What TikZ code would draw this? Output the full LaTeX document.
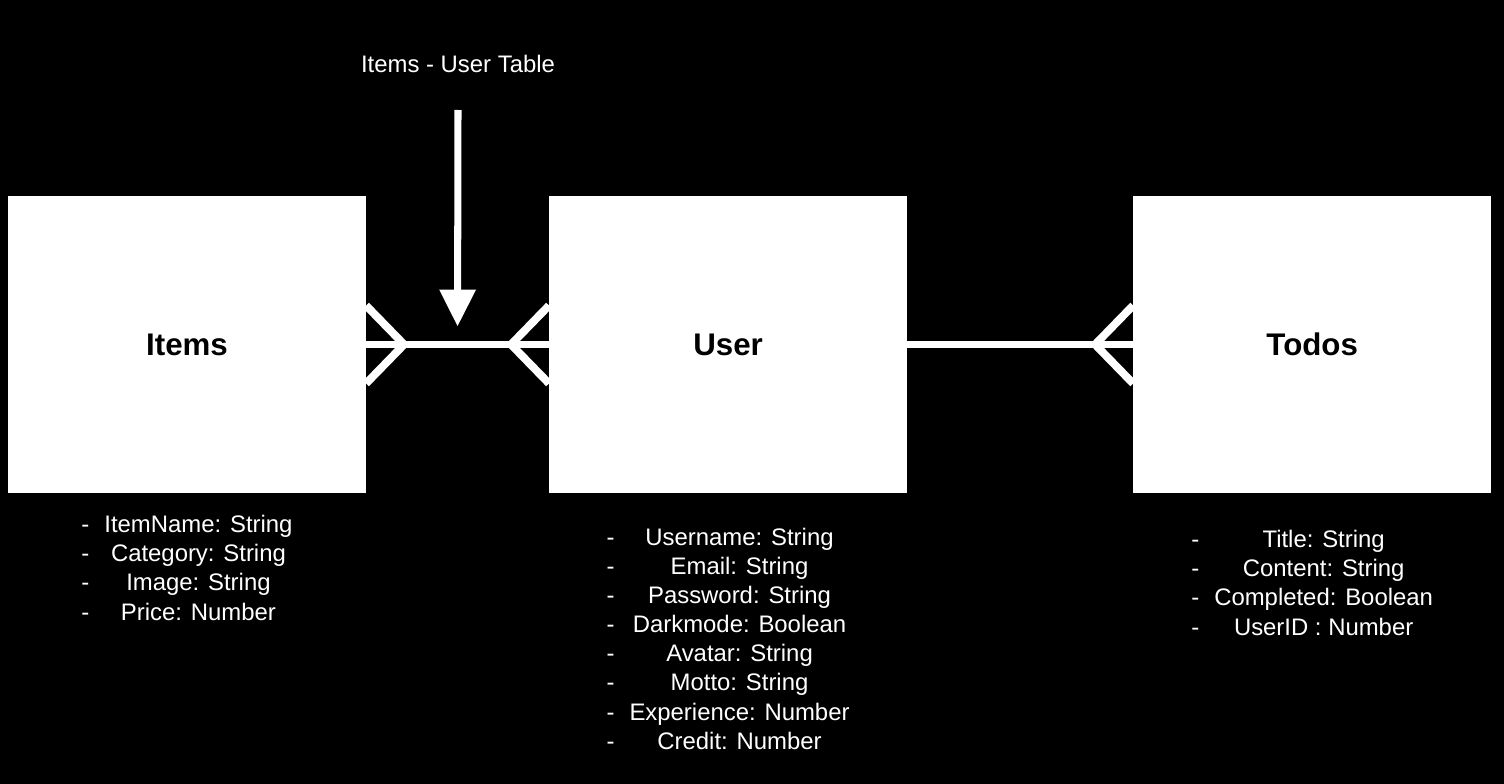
\documentclass[tikz,border=0pt]{standalone}
\usepackage{fontspec}
\setmainfont{Liberation Sans}
\usepackage{xcolor}
\usepackage{tikz}
\usetikzlibrary{arrows.meta,positioning,calc}
\definecolor{ErdInk}{HTML}{FFFFFF}
\definecolor{ErdBack}{HTML}{000000}
\tikzset{
  entity/.style={fill=ErdInk,draw=none,inner sep=0pt,minimum width=7.15cm,minimum height=5.94cm,
    text=ErdBack,font=\fontsize{17.8}{21}\selectfont\bfseries},
  fields/.style={inner sep=0pt,text=ErdInk,font=\fontsize{13.6}{16.6}\selectfont},
  caption/.style={inner sep=0pt,text=ErdInk,font=\fontsize{13.6}{16.6}\selectfont},
  relation/.style={draw=ErdInk,line width=4.5pt},
  pointer/.style={-{Triangle[width=19.8pt,length=21pt]},draw=ErdInk,line width=4pt}
}
\newcommand{\fieldlist}[1]{\begin{tabular}{@{}l@{\hspace{8.5pt}}c@{}}#1\end{tabular}}

\begin{document}
\begin{tikzpicture}[x=0.02cm,y=-0.02cm]
  \fill[ErdBack] (0,0) rectangle (1504,784);
  \node[entity] (items) at (187,344.5) {Items};
  \node[entity,right=3.66cm of items] (user) {User};
  \node[entity,right=4.52cm of user] (todos) {Todos};
  \node[fields,below=0.37cm of items] (itemfields) {\fieldlist{
    - & ItemName: String\\
    - & Category: String\\
    - & Image: String\\
    - & Price: Number}};
  \node[fields,below=0.62cm of user] (userfields) {\fieldlist{
    - & Username: String\\
    - & Email: String\\
    - & Password: String\\
    - & Darkmode: Boolean\\
    - & Avatar: String\\
    - & Motto: String\\
    - & Experience: Number\\
    - & Credit: Number}};
  \node[fields,below=0.67cm of todos] (todofields) {\fieldlist{
    - & Title: String\\
    - & Content: String\\
    - & Completed: Boolean\\
    - & UserID : Number}};
  \draw[relation] (items.east) -- (user.west);
  \draw[relation] (user.east) -- (todos.west);
  % crow's feet
  \draw[relation] ($(items.east)+(0,-39)$) -- ($(items.east)+(38,0)$)
    ($(items.east)+(0,39)$) -- ($(items.east)+(38,0)$);
  \draw[relation] ($(user.west)+(0,-39)$) -- ($(user.west)+(-38,0)$)
    ($(user.west)+(0,39)$) -- ($(user.west)+(-38,0)$);
  \draw[relation] ($(todos.west)+(0,-39)$) -- ($(todos.west)+(-38,0)$)
    ($(todos.west)+(0,39)$) -- ($(todos.west)+(-38,0)$);
  % link table
  \node[caption,anchor=base] (title) at (458,72) {Items - User Table};
  \coordinate (arrowtop) at (458,110);
  \coordinate (jointop) at ($(items.east)!.5!(user.west)+(0,-18)$);
  \draw[pointer] (arrowtop) -- (jointop);
\end{tikzpicture}
\end{document}
